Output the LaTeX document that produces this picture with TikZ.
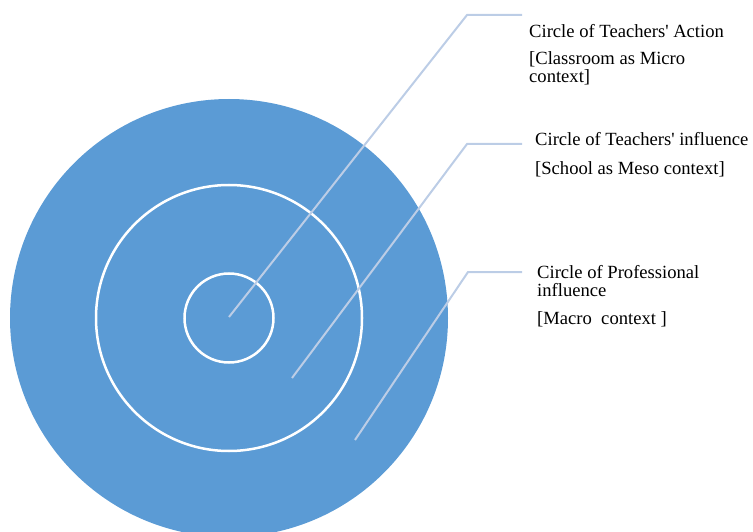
\documentclass[tikz,border=0pt]{standalone}
\usepackage{fontspec}
\setmainfont{Liberation Serif}
\usetikzlibrary{positioning}
\definecolor{ringblue}{HTML}{5B9BD5}
\definecolor{leadblue}{HTML}{BCCDE6}
\tikzset{
	ring/.style={draw=white, line width=2.5pt},
	lead/.style={draw=leadblue, line width=2pt},
	label/.style={anchor=base west, inner sep=0pt, font=\fontsize{18.6}{18}\selectfont}
}

\begin{document}
\begin{tikzpicture}[x=1pt,y=-1pt]
			%%%%% START %%%%%
			\useasboundingbox (0,0) rectangle (753,532);
			\clip (0,0) rectangle (753,532);
			
			\coordinate (mid) at (229,318);
			\fill[ringblue] (mid) circle (219pt);
			\draw[ring] (mid) circle (133pt);
			\draw[ring] (mid) circle (44.5pt);
			
			\coordinate (actend) at (229,317);
			\coordinate (infend) at (292,378);
			\coordinate (proend) at (355,440);
			
			\coordinate (actbend) at (467,15);
			\coordinate (infbend) at (467,144);
			\coordinate (probend) at (468,272);
			
			\coordinate (acttip) at (522,15);
			\coordinate (inftip) at (522,144);
			\coordinate (protip) at (522,272);
			
			\draw[lead] (actend) -- (actbend) -- (acttip);
			\draw[lead] (infend) -- (infbend) -- (inftip);
			\draw[lead] (proend) -- (probend) -- (protip);
			
			\node[label] (acttitle) at (529,37.5) {Circle of Teachers\textquotesingle\ Action};
			\node[label] (actctx) at (529,64.5) {[Classroom as Micro};
			\node[label] (actctxb) at (529,82.5) {context]};
			
			\node[label] (inftitle) at (535,146) {Circle of Teachers\textquotesingle\ influence};
			\node[label] (infctx) at (535,174.5) {[School as Meso context]};
			
			\node[label] (protitle) at (537,278.5) {Circle of Professional};
			\node[label] (protitleb) at (537,296.5) {influence};
			\node[label] (proctx) at (537,324.5) {[Macro\ \ context ]};
			%%%%% END %%%%%
\end{tikzpicture}
\end{document}
